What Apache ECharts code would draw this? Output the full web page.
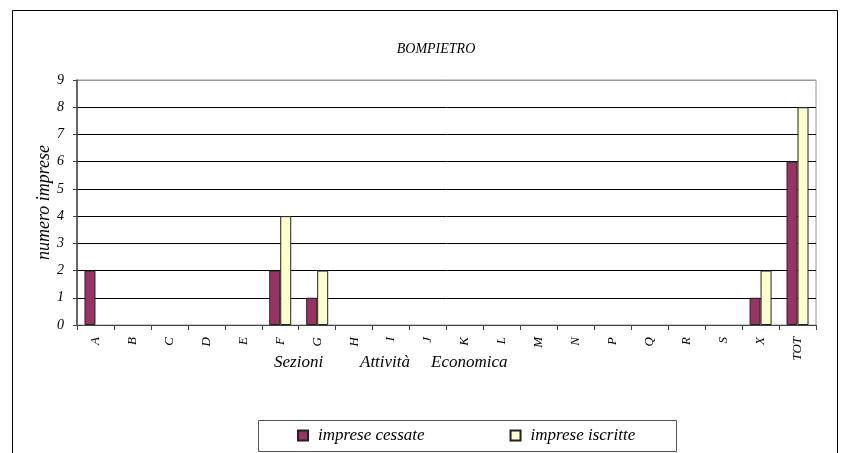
<!DOCTYPE html>
<html><head><meta charset="utf-8">
<script src="https://cdn.jsdelivr.net/npm/echarts@6/dist/echarts.min.js"></script>
<style>html,body{margin:0;padding:0;background:#fff}#c{width:841px;height:453px}</style>
</head><body><div id="c"></div>
<script>
const categories = ['A','B','C','D','E','F','G','H','I','J','K','L','M','N','P','Q','R','S','X','TOT'];
const cessate =   [2,0,0,0,0,2,1,0,0,0,0,0,0,0,0,0,0,0,1,6];
const iscritte =  [0,0,0,0,0,4,2,0,0,0,0,0,0,0,0,0,0,0,2,8];
const seriesNames = ['imprese cessate','imprese iscritte'];
const xTitleWords = ['Sezioni','Attività','Economica'];
const yTicks = [0,1,2,3,4,5,6,7,8,9];

const F = '"Liberation Serif","Times New Roman",serif';
const noZero = arr => arr.map(v => v === 0 ? null : v);
const chart = echarts.init(document.getElementById('c'), null, {renderer:'canvas'});
const gridColors = yTicks.map((v,i)=> i===yTicks.length-1 ? '#999' : '#000');
const wordLeft = [274, 360, 431];
chart.setOption({
  animation:false,
  backgroundColor:'#fff',
  title:{text:'BOMPIETRO', left:431, top:37, textAlign:'center',
    textStyle:{fontFamily:F, fontStyle:'italic', fontWeight:'normal', fontSize:14, color:'#000'}},
  grid:{left:77, top:80, right:25, bottom:128, show:true, borderColor:'#999', borderWidth:1},
  graphic:[
    {type:'rect', shape:{x:12.5, y:10.5, width:825, height:460}, style:{fill:'none', stroke:'#000', lineWidth:1}, silent:true, z:-1},
    {type:'rect', shape:{x:258.5, y:420.5, width:418, height:31}, style:{fill:'#fff', stroke:'#555', lineWidth:1}, z:0}
  ].concat(xTitleWords.map((w,i)=>({type:'text', left:wordLeft[i], top:354,
    style:{text:w, font:'italic 17px '+F, fill:'#000'}}))),
  legend:{left:297, top:427, padding:0, itemWidth:10, itemHeight:10, itemGap:85, z:5,
    textStyle:{fontFamily:F, fontStyle:'italic', fontSize:17, color:'#000', padding:[0,0,0,5]},
    data:seriesNames, icon:'rect'},
  xAxis:{type:'category', data:categories,
    axisLine:{lineStyle:{color:'#444', width:1}},
    axisTick:{show:true, length:5, lineStyle:{color:'#444'}},
    axisLabel:{rotate:90, margin:12, fontFamily:F, fontStyle:'italic', fontSize:13, color:'#000'}},
  yAxis:{type:'value', min:0, max:9, interval:1,
    name:'numero imprese', nameLocation:'middle', nameGap:24, nameRotate:90, nameMoveOverlap:false,
    nameTextStyle:{fontFamily:F, fontStyle:'italic', fontSize:18, color:'#000'},
    axisLine:{show:true, lineStyle:{color:'#444', width:1.5}},
    axisTick:{show:true, length:4, lineStyle:{color:'#444'}},
    axisLabel:{margin:13, fontFamily:F, fontStyle:'italic', fontSize:14, color:'#000'},
    splitLine:{lineStyle:{color:gridColors, width:1}}},
  series:[
    {name:seriesNames[0], type:'bar', data:noZero(cessate), barWidth:11, barGap:'0%',
     itemStyle:{color:'#993366', borderColor:'#222', borderWidth:1}},
    {name:seriesNames[1], type:'bar', data:noZero(iscritte), barWidth:11, barGap:'0%',
     itemStyle:{color:'#FFFFCC', borderColor:'#222', borderWidth:1}}
  ]
});
</script></body></html>
